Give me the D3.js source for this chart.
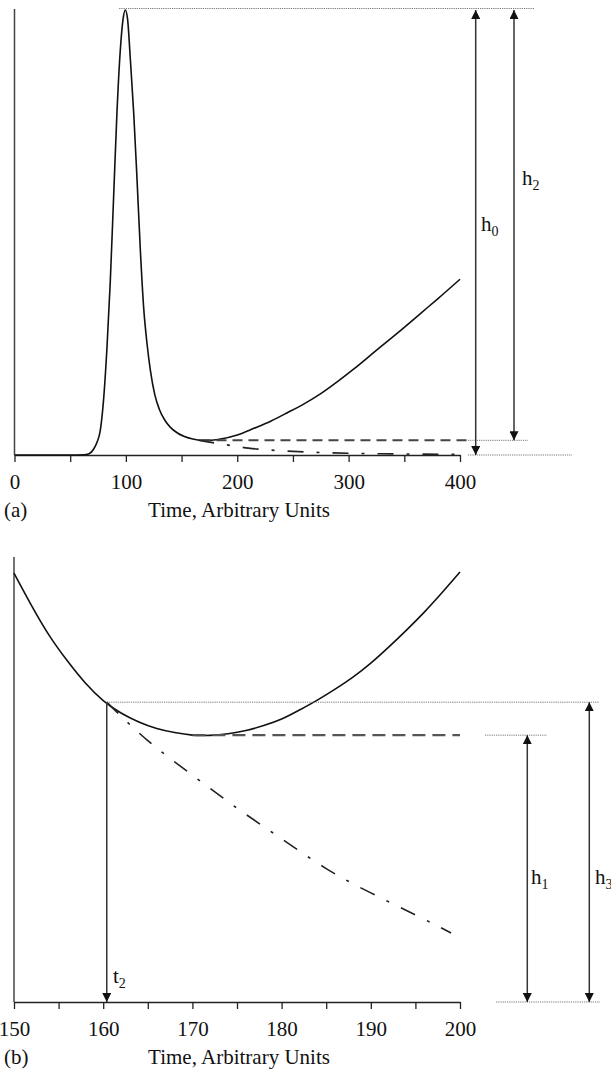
<!DOCTYPE html>
<html>
<head>
<meta charset="utf-8">
<script src="https://cdn.jsdelivr.net/npm/d3@7"></script>
<style>
  body { margin: 0; background: #fff; }
  text { font-family: "Liberation Serif", "Times New Roman", serif; fill: #111; }
</style>
</head>
<body>
<div id="chart"></div>
<script>
// panel (a): whole run, signal vs time
const topTime = [0, 50, 62, 67, 71, 74, 77, 80, 83, 86, 89, 92, 95, 97.5, 99.5, 101.5, 104, 107, 110, 113, 116, 119, 122, 126, 130, 135, 140, 146, 152, 160, 168, 175, 185, 200, 215, 230, 245, 260, 275, 290, 305, 320, 335, 350, 365, 380, 400]
const topSignal = [0, 0, 0.05, 0.3, 1.3, 2.8, 5.5, 12.5, 24, 39, 58, 77, 91, 98, 100, 98, 89, 77, 62, 46, 33, 25, 19, 13.5, 10.3, 7.8, 6.2, 5.0, 4.2, 3.6, 3.3, 3.3, 3.6, 4.5, 6.0, 7.6, 9.5, 11.5, 13.8, 16.5, 19.4, 22.5, 25.6, 28.7, 31.9, 35.1, 39.5]
const topDecayTime = [165, 180, 195, 210, 230, 255, 280, 300, 330, 360, 395]
const topDecay = [3.3, 2.7, 2.1, 1.55, 1.1, 0.75, 0.52, 0.4, 0.28, 0.2, 0.15]
const topLevel = 3.3        // flat baseline level (dashed)
const topLevelSpan = [167, 407]
const topTicks = [0, 50, 100, 150, 200, 250, 300, 350, 400]

// panel (b): zoom on the minimum
const botTime = [150, 152, 154, 156, 158, 160, 162, 164, 166, 168, 170, 172, 174, 176, 178, 180, 182, 184, 186, 188, 190, 192, 194, 196, 198, 200]
const botSignal = [5.465, 5.045, 4.662, 4.344, 4.064, 3.841, 3.682, 3.567, 3.484, 3.433, 3.401, 3.397, 3.418, 3.459, 3.522, 3.605, 3.720, 3.847, 3.987, 4.140, 4.318, 4.522, 4.739, 4.968, 5.217, 5.478]
const botDecayTime = [160.4, 165, 170, 175, 180, 185, 190, 195, 199]
const botDecay = [3.82, 3.33, 2.89, 2.47, 2.08, 1.70, 1.39, 1.11, 0.88]
const botLevel = 3.40
const botLevelSpan = [170, 200]
const t2 = 160.4
const t2Signal = 3.82
const botTicks = [150, 155, 160, 165, 170, 175, 180, 185, 190, 195, 200]

const width = 611, height = 1071

var svg = d3.select("#chart").append("svg")
  .attr("width", width)
  .attr("height", height)

svg.append("rect").attr("width", width).attr("height", height).attr("fill", "#fff")

var defs = svg.append("defs")
defs.append("marker")
  .attr("id", "arrow")
  .attr("viewBox", "0 0 10 10")
  .attr("refX", 10)
  .attr("refY", 5)
  .attr("markerWidth", 9)
  .attr("markerHeight", 9)
  .attr("markerUnits", "userSpaceOnUse")
  .attr("orient", "auto-start-reverse")
  .append("path")
  .attr("d", "M0,0 L10,5 L0,10 Z")
  .attr("fill", "#111")

var xTop = d3.scaleLinear().domain([0, 400]).range([14.5, 460])
var yTop = d3.scaleLinear().domain([0, 100]).range([455, 10])
var xBot = d3.scaleLinear().domain([150, 200]).range([14, 460])
var yBot = d3.scaleLinear().domain([0, 5.67]).range([1002, 557])

function dotted(g, x1, x2, y) {
  g.append("line")
    .attr("x1", x1).attr("x2", x2).attr("y1", y).attr("y2", y)
    .attr("stroke", "#777").attr("stroke-width", 1).attr("stroke-dasharray", "1.2,1")
}
function arrow(g, x, y1, y2, both) {
  var l = g.append("line")
    .attr("x1", x).attr("x2", x).attr("y1", y1).attr("y2", y2)
    .attr("stroke", "#333").attr("stroke-width", 1.5)
    .attr("marker-end", "url(#arrow)")
  if (both) l.attr("marker-start", "url(#arrow)")
}
function subLabel(g, x, y, main, sub) {
  var t = g.append("text").attr("x", x).attr("y", y).style("font-size", "21px")
  t.append("tspan").text(main)
  t.append("tspan").attr("dy", 5).style("font-size", "14px").text(sub)
}
function drawAxes(g, x, y, ticks, labelEvery, yTopValue) {
  var ax = d3.axisBottom(x).tickValues(ticks).tickSize(7).tickSizeOuter(0)
    .tickFormat(d => d % labelEvery === 0 ? d : "")
  var axg = g.append("g").attr("transform", "translate(0," + y(0) + ")").call(ax)
  axg.select(".domain").attr("stroke", "#222").attr("stroke-width", 1.5)
  axg.selectAll(".tick line").attr("stroke", "#222").attr("stroke-width", 1.3)
  axg.selectAll(".tick text")
    .attr("y", 19)
    .style("font-family", "Liberation Serif, serif")
    .style("font-size", "21px")
    .attr("fill", "#111")
  g.append("line")
    .attr("x1", x.range()[0]).attr("x2", x.range()[0])
    .attr("y1", y(0)).attr("y2", y(yTopValue))
    .attr("stroke", "#444").attr("stroke-width", 1.5)
}

// ---------- panel (a)
var ga = svg.append("g")
drawAxes(ga, xTop, yTop, topTicks, 100, 100.2)

var lineTop = d3.line().x(d => xTop(d[0])).y(d => yTop(d[1])).curve(d3.curveMonotoneX)
ga.append("path")
  .datum(topTime.map((t, i) => [t, topSignal[i]]))
  .attr("d", lineTop)
  .attr("fill", "none").attr("stroke", "#111").attr("stroke-width", 1.6)

ga.append("line")
  .attr("x1", xTop(topLevelSpan[0])).attr("x2", xTop(topLevelSpan[1]))
  .attr("y1", yTop(topLevel)).attr("y2", yTop(topLevel))
  .attr("stroke", "#444").attr("stroke-width", 2).attr("stroke-dasharray", "10,6")

ga.append("path")
  .datum(topDecayTime.map((t, i) => [t, topDecay[i]]))
  .attr("d", lineTop)
  .attr("fill", "none").attr("stroke", "#222").attr("stroke-width", 1.6)
  .attr("stroke-dasharray", "16,13,3,13")

var peakY = yTop(100) - 1.5
dotted(ga, xTop(94), 535, peakY)
dotted(ga, 468, 528, yTop(topLevel))
dotted(ga, 468, 572, yTop(0))
arrow(ga, 475.7, yTop(100), yTop(0), true)
arrow(ga, 514, yTop(100), yTop(topLevel), true)
subLabel(ga, 481, 231, "h", "0")
subLabel(ga, 522, 185, "h", "2")

ga.append("text").attr("x", 4).attr("y", 517).style("font-size", "21px").text("(a)")
ga.append("text").attr("x", 239).attr("y", 517).attr("text-anchor", "middle")
  .style("font-size", "21px").text("Time, Arbitrary Units")

// ---------- panel (b)
var gb = svg.append("g")
drawAxes(gb, xBot, yBot, botTicks, 10, 5.67)

var lineBot = d3.line().x(d => xBot(d[0])).y(d => yBot(d[1])).curve(d3.curveNatural)
gb.append("path")
  .datum(botTime.map((t, i) => [t, botSignal[i]]))
  .attr("d", lineBot)
  .attr("fill", "none").attr("stroke", "#111").attr("stroke-width", 1.6)

gb.append("line")
  .attr("x1", xBot(botLevelSpan[0])).attr("x2", xBot(botLevelSpan[1]))
  .attr("y1", yBot(botLevel)).attr("y2", yBot(botLevel))
  .attr("stroke", "#555").attr("stroke-width", 2.2).attr("stroke-dasharray", "13,7")

gb.append("path")
  .datum(botDecayTime.map((t, i) => [t, botDecay[i]]))
  .attr("d", lineBot)
  .attr("fill", "none").attr("stroke", "#222").attr("stroke-width", 1.6)
  .attr("stroke-dasharray", "16,13,3,13")

dotted(gb, xBot(t2), 599, yBot(t2Signal))
dotted(gb, 485, 547, yBot(botLevel))
dotted(gb, 496, 600, yBot(0))
arrow(gb, xBot(t2), yBot(t2Signal), yBot(0), false)
arrow(gb, 527.3, yBot(botLevel), yBot(0), true)
arrow(gb, 589.3, yBot(t2Signal), yBot(0), true)
subLabel(gb, 531, 884, "h", "1")
subLabel(gb, 595, 884, "h", "3")
subLabel(gb, 113, 983, "t", "2")

gb.append("text").attr("x", 4).attr("y", 1064).style("font-size", "21px").text("(b)")
gb.append("text").attr("x", 239).attr("y", 1064).attr("text-anchor", "middle")
  .style("font-size", "21px").text("Time, Arbitrary Units")
</script>
</body>
</html>
